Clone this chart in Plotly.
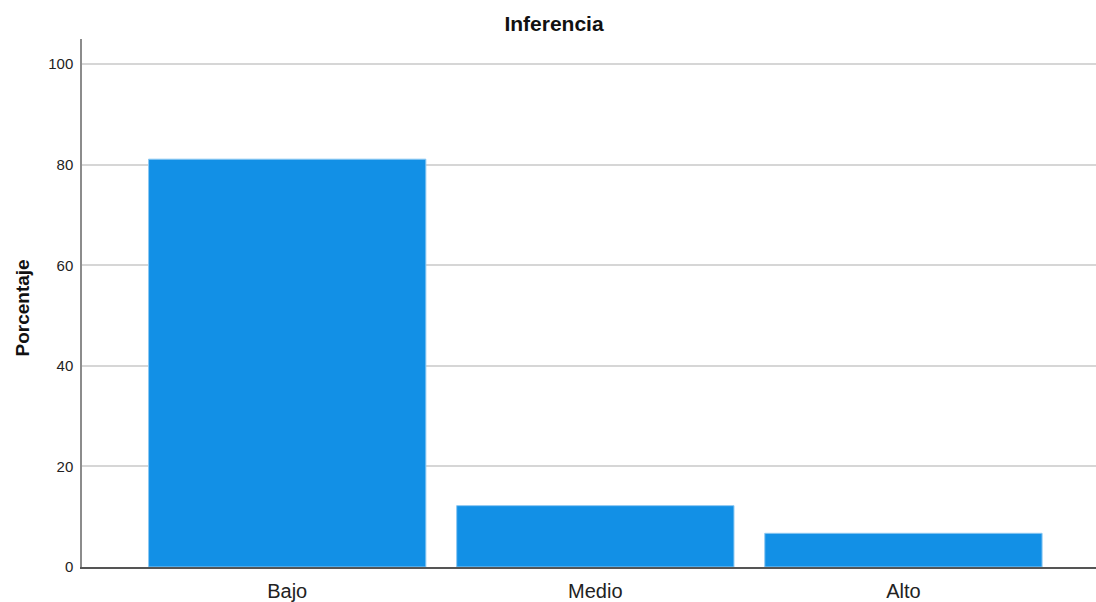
import plotly.graph_objects as go

categories = ["Bajo", "Medio", "Alto"]
percentages = [81.1, 12.2, 6.7]
y_ticks = [0, 20, 40, 60, 80, 100]

W, H = 1096, 602
L, R, T, B = 82, 0, 39, 32

fig = go.Figure()
fig.add_trace(go.Bar(
    x=categories,
    y=percentages,
    marker=dict(color="#1290e6", line=dict(color="#8cc8f2", width=1)),
    width=0.9,
    hoverinfo="x+y",
))

plot_h = H - T - B
fig.update_layout(
    width=W, height=H,
    margin=dict(l=L, r=R, t=T, b=B),
    paper_bgcolor="white",
    plot_bgcolor="white",
    showlegend=False,
    font=dict(family="Liberation Sans, Arial, sans-serif", color="#222222"),
    title=dict(
        text="<b>Inferencia</b>",
        x=554 / W, xref="container", xanchor="center",
        y=1 - 24 / H, yref="container", yanchor="middle",
        font=dict(size=21, color="#111111"),
    ),
    xaxis=dict(
        type="category",
        range=[-0.666, 2.625],
        showline=True, linecolor="#555555", linewidth=1.5,
        showgrid=False, zeroline=False,
        ticks="", tickfont=dict(size=20, color="#222222"),
        ticklabelstandoff=5,
    ),
    yaxis=dict(
        range=[0, 105],
        tickvals=y_ticks,
        showline=True, linecolor="#8c8c8c", linewidth=1.5,
        showgrid=True, gridcolor="#d6d6d6", gridwidth=1.5,
        zeroline=False,
        ticks="", tickfont=dict(size=15, color="#222222"),
        ticklabelstandoff=4,
    ),
    annotations=[dict(
        text="<b>Porcentaje</b>",
        xref="paper", yref="paper",
        x=-(L - 22) / (W - L - R), y=(H - B - 310) / plot_h,
        xanchor="center", yanchor="middle",
        textangle=-90, showarrow=False,
        font=dict(size=19, color="#111111"),
    )],
)

fig.write_html(
    "out.html",
    config={"displayModeBar": False},
    post_script="document.body.style.margin='0';document.body.style.overflow='hidden';",
)
